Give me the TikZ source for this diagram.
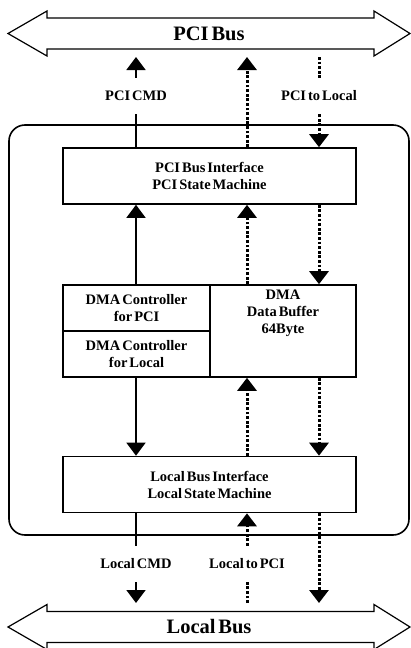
\documentclass[tikz,border=0pt]{standalone}
\usepackage{fontspec}
\setmainfont{Liberation Serif}[WordSpace=0.55]
\usetikzlibrary{arrows.meta}

\begin{document}
\begin{tikzpicture}[
    x=1pt, y=-1pt,
    font=\bfseries\fontsize{14.5}{17}\selectfont,
    box/.style={draw, line width=1.6pt, minimum width=293pt, minimum height=56pt, inner sep=0pt, align=center},
    half/.style={draw, line width=1.6pt, minimum width=147pt, minimum height=46pt, inner sep=0pt, align=center},
    busline/.style={draw, line width=1.2pt, line join=miter},
    buslbl/.style={inner sep=0pt, font=\bfseries\fontsize{20.5}{24}\selectfont},
    lbl/.style={minimum height=36pt, inner sep=0pt},
    link/.style={line width=1.6pt, -{Triangle[length=13pt,width=19pt]}},
    plain/.style={line width=1.6pt},
    dots/.style={line width=3pt, dash pattern=on 2.8pt off 1.8pt}
]
\useasboundingbox (0,0) rectangle (411,648);

% buses
\foreach \nm/\yc/\txt in {pcibus/33.5/PCI Bus, locbus/627/Local Bus}{
  \draw[busline] (8,\yc) -- ++(39,-22.5) -- ++(0,7) -- ++(327,0) -- ++(0,-7) -- ++(36,22.5)
    -- ++(-36,22.5) -- ++(0,-7) -- ++(-327,0) -- ++(0,7) -- cycle;
  \node[buslbl] (\nm) at (209,\yc) {\txt};
}
\coordinate (pcitip) at (0,57);
\coordinate (loctip) at (0,603);

% chip outline
\node[draw, line width=1.6pt, rounded corners=16pt, minimum width=400pt, minimum height=410pt] (chip) at (209,330) {};

% blocks
\node[box] (pcibox) at (209.5,176) {PCI Bus Interface\\PCI State Machine};
\node[half] (dmapci) at (136.5,308) {DMA Controller\\for PCI};
\node[half] (dmaloc) at (136.5,354) {DMA Controller\\for Local};
\node[draw, line width=1.6pt, minimum width=146pt, minimum height=92pt] (dmabuf) at (283,331) {};
\node[anchor=north, align=center, inner sep=0pt] (bufname) at ([yshift=-6pt]dmabuf.north) {DMA\\Data Buffer\\64Byte};
\node[box] (locbox) at (209.5,484.5) {Local Bus Interface\\Local State Machine};

% labels
\node[lbl] (pcicmd) at (136,96) {PCI CMD};
\node[lbl] (pcilocal) at (319,96) {PCI to Local};
\node[lbl] (loccmd) at (136,564) {Local CMD};
\node[lbl] (locpci) at (247,564) {Local to PCI};

% PCI side
\draw[plain] (pcibox.north -| pcicmd) -- (pcicmd.south);
\draw[link] (pcicmd.north) -- (pcicmd |- pcitip);
\draw[link, dots] (pcibox.north -| locpci) -- (locpci |- pcitip);
\draw[dots] (pcilocal |- pcitip) -- (pcilocal.north);
\draw[link, dots] (pcilocal.south) -- (pcibox.north -| pcilocal);

% inside
\draw[link] (dmapci.north -| pcicmd) -- (pcibox.south -| pcicmd);
\draw[link, dots] (dmabuf.north -| locpci) -- (pcibox.south -| locpci);
\draw[link, dots] (pcibox.south -| pcilocal) -- (dmabuf.north -| pcilocal);
\draw[link] (dmaloc.south -| loccmd) -- (locbox.north -| loccmd);
\draw[link, dots] (locbox.north -| locpci) -- (dmabuf.south -| locpci);
\draw[link, dots] (dmabuf.south -| pcilocal) -- (locbox.north -| pcilocal);

% Local side
\draw[plain] (locbox.south -| loccmd) -- (loccmd.north);
\draw[link] (loccmd.south) -- (loccmd |- loctip);
\draw[dots] (locpci |- loctip) -- (locpci.south);
\draw[link, dots] (locpci.north) -- (locbox.south -| locpci);
\draw[link, dots] (locbox.south -| pcilocal) -- (pcilocal |- loctip);

\end{tikzpicture}
\end{document}
